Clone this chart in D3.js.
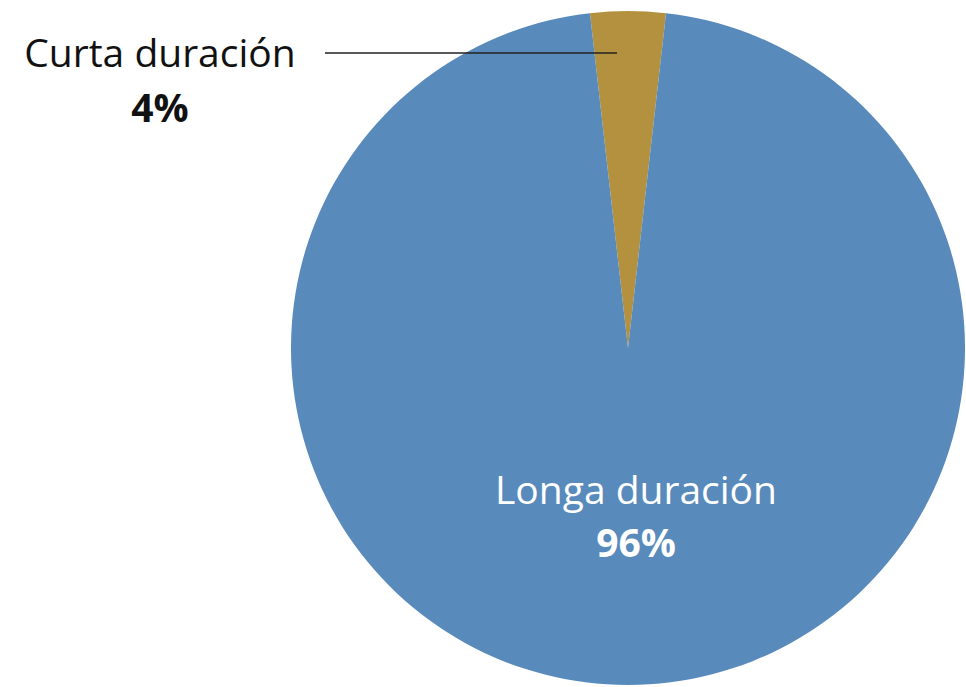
<html>

<head>
    <meta charset="utf-8">
    <script src="https://d3js.org/d3.v7.min.js"></script>
    <style>
        body { margin: 0; background: #fff; }
        text { font-family: "Open Sans", sans-serif; }
    </style>
</head>

<body>
    <div id="vis"></div>
</body>

<script>

    // Data
    var categories = ["Curta duración", "Longa duración"];
    var shares = [0.036, 0.964];
    var colors = ["#B3913F", "#588ABB"];

    var width = 966,
        height = 687;

    var cx = 628, cy = 348, radius = 337;

    var svg = d3.select("#vis")
        .append("svg")
        .attr("width", width)
        .attr("height", height);

    var data = categories.map(function (c, i) {
        return { name: c, value: shares[i], color: colors[i] };
    });

    // small slice sits centred on the top of the circle
    var offset = -shares[0] * Math.PI;

    var pie = d3.pie()
        .sort(null)
        .value(function (d) { return d.value; })
        .startAngle(offset)
        .endAngle(offset + 2 * Math.PI);

    var arc = d3.arc()
        .innerRadius(0)
        .outerRadius(radius);

    var arcs = pie(data);
    var pct = d3.format(".0%");

    var g = svg.append("g")
        .attr("transform", "translate(" + cx + "," + cy + ")");

    g.selectAll("path")
        .data(arcs)
        .enter()
        .append("path")
        .attr("d", arc)
        .style("fill", function (d) { return d.data.color; });

    // Leader line for the small slice
    var small = arcs[0];
    var inner = d3.arc().innerRadius(radius * 0.875).outerRadius(radius * 0.875);
    var p = inner.centroid(small);
    var lineY = 53;
    svg.append("line")
        .attr("x1", 325)
        .attr("y1", lineY)
        .attr("x2", cx + p[0] - 11)
        .attr("y2", lineY)
        .style("stroke", "#222")
        .style("stroke-width", 1.5);

    var lab1 = svg.append("text")
        .attr("x", 160)
        .attr("y", 67)
        .attr("text-anchor", "middle")
        .style("font-size", "39px")
        .style("fill", "#111");
    lab1.append("tspan").text(small.data.name);
    lab1.append("tspan")
        .attr("x", 160)
        .attr("dy", 55)
        .style("font-weight", "bold")
        .text(pct(small.data.value));

    // Label inside the big slice
    var big = arcs[1];
    var lab2 = svg.append("text")
        .attr("x", 636)
        .attr("y", 504)
        .attr("text-anchor", "middle")
        .style("font-size", "39px")
        .style("fill", "#fff");
    lab2.append("tspan").text(big.data.name);
    lab2.append("tspan")
        .attr("x", 636)
        .attr("dy", 53)
        .style("font-weight", "bold")
        .text(pct(big.data.value));

</script>

</html>
